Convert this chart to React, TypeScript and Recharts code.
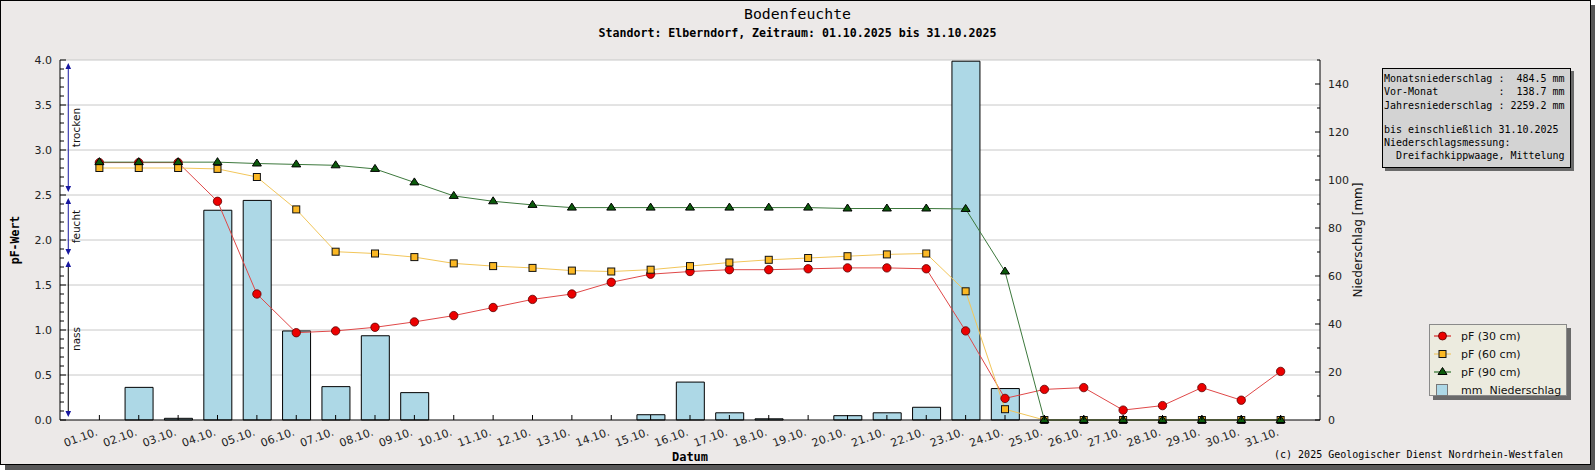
import React from 'react'
import {
  ComposedChart,
  Bar,
  Line,
  XAxis,
  YAxis,
  CartesianGrid,
  ReferenceLine,
} from 'recharts'

const DAYS = [
  '01.10.', '02.10.', '03.10.', '04.10.', '05.10.', '06.10.', '07.10.', '08.10.',
  '09.10.', '10.10.', '11.10.', '12.10.', '13.10.', '14.10.', '15.10.', '16.10.',
  '17.10.', '18.10.', '19.10.', '20.10.', '21.10.', '22.10.', '23.10.', '24.10.',
  '25.10.', '26.10.', '27.10.', '28.10.', '29.10.', '30.10.', '31.10.',
]

// Niederschlag in mm
const RAIN_MM = [
  0, 13.6, 0.7, 87.4, 91.5, 37.1, 13.9, 35.1, 11.4, 0, 0, 0, 0, 0, 2.2, 15.8,
  3.0, 0.5, 0, 1.8, 3.0, 5.3, 149.5, 13.1, 0, 0, 0, 0, 0, 0, 0,
]

// pF-Werte je Tiefe
const PF_30 = [
  2.86, 2.86, 2.86, 2.43, 1.4, 0.97, 0.99, 1.03, 1.09, 1.16, 1.25, 1.34, 1.4, 1.53, 1.62, 1.65,
  1.67, 1.67, 1.68, 1.69, 1.69, 1.68, 0.99, 0.24, 0.34, 0.36, 0.11, 0.16, 0.36, 0.22, 0.54,
]
const PF_60 = [
  2.8, 2.8, 2.8, 2.79, 2.7, 2.34, 1.87, 1.85, 1.81, 1.74, 1.71, 1.69, 1.66, 1.65, 1.67, 1.71,
  1.75, 1.78, 1.8, 1.82, 1.84, 1.85, 1.43, 0.12, 0, 0, 0, 0, 0, 0, 0,
]
const PF_90 = [
  2.865, 2.865, 2.865, 2.865, 2.85, 2.84, 2.83, 2.79, 2.64, 2.49, 2.43, 2.39, 2.36, 2.36, 2.36, 2.36,
  2.36, 2.36, 2.36, 2.35, 2.35, 2.35, 2.345, 1.65, 0, 0, 0, 0, 0, 0, 0,
]

const PF_GRID = [0.5, 1.0, 1.5, 2.0, 2.5, 3.0, 3.5, 4.0]
const PF_TICKS = Array.from({ length: 41 }, (_, i) => i / 10)
const MM_TICKS = [0, 10, 20, 30, 40, 50, 60, 70, 80, 90, 100, 110, 120, 130, 140, 150]
const MM_LABELS = [0, 20, 40, 60, 80, 100, 120, 140]

const ZONES = [
  { label: 'trocken', from: 2.5, to: 4.0 },
  { label: 'feucht', from: 1.8, to: 2.5 },
  { label: 'nass', from: 0, to: 1.8 },
]
const ZONE_LINE: Record<string, string> = {
  trocken: '#1818a0',
  feucht: '#1818a0',
  nass: '#000000',
}

const INFO_LINES = [
  'Monatsniederschlag :  484.5 mm',
  'Vor-Monat          :  138.7 mm',
  'Jahresniederschlag : 2259.2 mm',
  '',
  'bis einschließlich 31.10.2025',
  'Niederschlagsmessung:',
  '  Dreifachkippwaage, Mittelung',
]

const LEGEND_ITEMS = [
  { key: 'pf30', label: 'pF (30 cm)' },
  { key: 'pf60', label: 'pF (60 cm)' },
  { key: 'pf90', label: 'pF (90 cm)' },
  { key: 'rain', label: 'mm  Niederschlag' },
]

const data = DAYS.map((label, i) => ({
  day: i + 1,
  label,
  rain: RAIN_MM[i],
  pf30: PF_30[i],
  pf60: PF_60[i],
  pf90: PF_90[i],
}))
const DAY_NUMS = data.map((d) => d.day)

const SANS = '"DejaVu Sans", sans-serif'
const MONO = '"DejaVu Sans Mono", monospace'

function PfTick(props: any) {
  const { x, y, payload } = props
  const v = payload.value as number
  const major = Math.abs(v * 2 - Math.round(v * 2)) < 1e-6
  return (
    <g>
      <line x1={x} x2={x + (major ? 6 : 4)} y1={y} y2={y} stroke="#000" />
      {major && (
        <text x={x - 8} y={y} dy={4} textAnchor="end" fontSize={11} fontFamily={SANS} fill="#222">
          {v.toFixed(1)}
        </text>
      )}
    </g>
  )
}

function MmTick(props: any) {
  const { x, y, payload } = props
  const v = payload.value as number
  const major = MM_LABELS.includes(v)
  return (
    <g>
      <line x1={x} x2={x - (major ? 5 : 3)} y1={y} y2={y} stroke="#000" />
      {major && (
        <text x={x + 8} y={y} dy={4} textAnchor="start" fontSize={11} fontFamily={SANS} fill="#222">
          {v}
        </text>
      )}
    </g>
  )
}

function DayTick(props: any) {
  const { x, y, payload } = props
  const label = DAYS[(payload.value as number) - 1] ?? ''
  const ty = y + 15
  return (
    <g>
      <line x1={x} x2={x} y1={y} y2={y - 5} stroke="#000" />
      <text
        x={x - 1}
        y={ty}
        textAnchor="end"
        fontSize={11}
        fontFamily={SANS}
        fill="#222"
        transform={`rotate(-20, ${x - 1}, ${ty})`}
      >
        {label}
      </text>
    </g>
  )
}

function redDot(p: any) {
  if (p.cx == null || p.cy == null) return <g key={p.index} />
  return <circle key={p.index} cx={p.cx} cy={p.cy} r={4.2} fill="#ec0000" stroke="#5a0000" strokeWidth={0.8} />
}

function orangeDot(p: any) {
  if (p.cx == null || p.cy == null) return <g key={p.index} />
  return (
    <rect key={p.index} x={p.cx - 3.5} y={p.cy - 3.5} width={7} height={7} fill="#fbb824" stroke="#111" strokeWidth={1} />
  )
}

function greenDot(p: any) {
  if (p.cx == null || p.cy == null) return <g key={p.index} />
  const { cx, cy } = p
  return (
    <polygon
      key={p.index}
      points={`${cx},${cy - 4.5} ${cx + 4.5},${cy + 2.5} ${cx - 4.5},${cy + 2.5}`}
      fill="#0b5a0b"
      stroke="#000"
      strokeWidth={1}
    />
  )
}

function zoneShape(label: string) {
  return (p: any) => {
    const x = p.x1
    const top = Math.min(p.y1, p.y2) + 4
    const bot = Math.max(p.y1, p.y2) - 4
    const mid = (top + bot) / 2
    const head = '#1818a0'
    return (
      <g>
        <line x1={x} x2={x} y1={top + 3} y2={bot - 3} stroke={ZONE_LINE[label]} strokeWidth={1} />
        <polygon points={`${x},${top - 1} ${x + 2.8},${top + 5} ${x - 2.8},${top + 5}`} fill={head} />
        <polygon points={`${x},${bot + 1} ${x + 2.8},${bot - 5} ${x - 2.8},${bot - 5}`} fill={head} />
        <text
          x={x + 12}
          y={mid}
          textAnchor="middle"
          fontSize={10.5}
          fontFamily={SANS}
          fill="#111"
          transform={`rotate(-90, ${x + 12}, ${mid})`}
        >
          {label}
        </text>
      </g>
    )
  }
}

function scaleOf(axis: any, v: number): number {
  const s = axis?.scale
  if (typeof s === 'function') return s(v)
  if (s && typeof s.map === 'function') return s.map(v)
  return 0
}

function LegendMarker({ kind }: { kind: string }) {
  if (kind === 'rain') {
    return (
      <svg width={18} height={12}>
        <rect x={2.5} y={0.5} width={11} height={11} fill="#add8e6" stroke="#777" />
      </svg>
    )
  }
  const color = kind === 'pf30' ? '#d00000' : kind === 'pf60' ? '#f0c050' : '#0b5a0b'
  return (
    <svg width={18} height={12}>
      <line x1={0} x2={17} y1={6} y2={6} stroke={color} strokeWidth={1} />
      {kind === 'pf30' && <circle cx={8.5} cy={6} r={4} fill="#ec0000" stroke="#5a0000" strokeWidth={0.8} />}
      {kind === 'pf60' && <rect x={5} y={2.5} width={7} height={7} fill="#fbb824" stroke="#111" />}
      {kind === 'pf90' && <polygon points="8.5,1.5 13,8.5 4,8.5" fill="#0b5a0b" stroke="#000" />}
    </svg>
  )
}

export default function App() {
  return (
    <div style={{ position: 'relative', width: 1595, height: 470, overflow: 'hidden', fontFamily: SANS }}>
      <style>{'body{margin:0}'}</style>
      <div
        style={{
          position: 'absolute',
          left: 0,
          top: 0,
          width: 1589,
          height: 463,
          background: '#ece9e8',
          border: '1px solid #000',
          boxShadow: '5px 5px 0 #585858',
        }}
      />
      <div
        style={{
          position: 'absolute',
          left: 0,
          top: 5,
          width: 1595,
          textAlign: 'center',
          fontFamily: MONO,
          fontSize: 14.8,
          lineHeight: '18px',
          color: '#000',
        }}
      >
        Bodenfeuchte
      </div>
      <div
        style={{
          position: 'absolute',
          left: 0,
          top: 25,
          width: 1595,
          textAlign: 'center',
          fontFamily: MONO,
          fontWeight: 'bold',
          fontSize: 11.6,
          lineHeight: '16px',
          color: '#000',
        }}
      >
        Standort: Elberndorf, Zeitraum: 01.10.2025 bis 31.10.2025
      </div>

      <div style={{ position: 'absolute', left: 0, top: 0 }}>
        <ComposedChart
          width={1595}
          height={470}
          data={data}
          margin={{ top: 60, right: 199, bottom: 10, left: 0 }}
        >
          <CartesianGrid
            yAxisId="pf"
            vertical={false}
            stroke="#c8c8c8"
            fill="#ffffff"
            fillOpacity={1}
            horizontalCoordinatesGenerator={({ yAxis }: any) => PF_GRID.map((v) => scaleOf(yAxis, v))}
          />
          <XAxis
            dataKey="day"
            type="number"
            domain={[0, 32]}
            ticks={DAY_NUMS}
            interval={0}
            height={40}
            tickSize={0}
            tickMargin={0}
            tickLine={false}
            axisLine={{ stroke: '#000' }}
            tick={<DayTick />}
          />
          <YAxis
            yAxisId="pf"
            orientation="left"
            domain={[0, 4]}
            ticks={PF_TICKS}
            interval={0}
            width={60}
            tickSize={0}
            tickMargin={0}
            tickLine={false}
            axisLine={{ stroke: '#000' }}
            tick={<PfTick />}
          />
          <YAxis
            yAxisId="mm"
            orientation="right"
            domain={[0, 150]}
            ticks={MM_TICKS}
            interval={0}
            width={76}
            tickSize={0}
            tickMargin={0}
            tickLine={false}
            axisLine={{ stroke: '#000' }}
            tick={<MmTick />}
          />
          <Bar
            yAxisId="mm"
            dataKey="rain"
            name="mm Niederschlag"
            barSize={28}
            fill="#add8e6"
            stroke="#000"
            strokeWidth={1}
            isAnimationActive={false}
          />
          <Line
            yAxisId="pf"
            type="linear"
            dataKey="pf30"
            name="pF (30 cm)"
            stroke="#e04848"
            strokeWidth={1}
            dot={redDot}
            activeDot={false}
            isAnimationActive={false}
          />
          <Line
            yAxisId="pf"
            type="linear"
            dataKey="pf60"
            name="pF (60 cm)"
            stroke="#f2c65a"
            strokeWidth={1}
            dot={orangeDot}
            activeDot={false}
            isAnimationActive={false}
          />
          <Line
            yAxisId="pf"
            type="linear"
            dataKey="pf90"
            name="pF (90 cm)"
            stroke="#3c783c"
            strokeWidth={1}
            dot={greenDot}
            activeDot={false}
            isAnimationActive={false}
          />
          {ZONES.map((z) => (
            <ReferenceLine
              key={z.label}
              yAxisId="pf"
              segment={[
                { x: 0.21, y: z.to },
                { x: 0.21, y: z.from },
              ]}
              stroke={ZONE_LINE[z.label]}
              shape={zoneShape(z.label)}
            />
          ))}
        </ComposedChart>
      </div>

      <div
        style={{
          position: 'absolute',
          left: 15,
          top: 240,
          transform: 'translate(-50%, -50%) rotate(-90deg)',
          whiteSpace: 'nowrap',
          fontFamily: MONO,
          fontWeight: 'bold',
          fontSize: 11.5,
          color: '#000',
        }}
      >
        pF-Wert
      </div>
      <div
        style={{
          position: 'absolute',
          left: 1358,
          top: 240,
          transform: 'translate(-50%, -50%) rotate(-90deg)',
          whiteSpace: 'nowrap',
          fontFamily: SANS,
          fontSize: 12,
          color: '#111',
        }}
      >
        Niederschlag [mm]
      </div>
      <div
        style={{
          position: 'absolute',
          left: 690,
          top: 457,
          transform: 'translate(-50%, -50%)',
          whiteSpace: 'nowrap',
          fontFamily: MONO,
          fontWeight: 'bold',
          fontSize: 12,
          color: '#000',
        }}
      >
        Datum
      </div>
      <div
        style={{
          position: 'absolute',
          right: 1595 - 1563,
          top: 448,
          whiteSpace: 'pre',
          fontFamily: MONO,
          fontSize: 10,
          lineHeight: '14px',
          color: '#000',
        }}
      >
        (c) 2025 Geologischer Dienst Nordrhein-Westfalen
      </div>

      <div
        style={{
          position: 'absolute',
          left: 1382,
          top: 68,
          width: 186,
          height: 95,
          background: '#d3d3d3',
          border: '1px solid #000',
          boxShadow: '3px 3px 0 #6a6a6a',
          paddingTop: 3,
          paddingLeft: 1,
          boxSizing: 'content-box',
          fontFamily: MONO,
          fontSize: 10,
          color: '#000',
        }}
      >
        {INFO_LINES.map((t, i) => (
          <div key={i} style={{ whiteSpace: 'pre', lineHeight: t === '' ? '11px' : '13.3px', height: t === '' ? 11 : 13.3 }}>
            {t}
          </div>
        ))}
      </div>

      <div
        style={{
          position: 'absolute',
          left: 1429,
          top: 324,
          width: 138,
          height: 72,
          background: '#ecebdf',
          border: '1px solid #8a8a8a',
          boxShadow: '4px 4px 0 #6a6a6a',
          paddingTop: 2,
          boxSizing: 'border-box',
        }}
      >
        {LEGEND_ITEMS.map((it) => (
          <div key={it.key} style={{ display: 'flex', alignItems: 'center', height: 18, paddingLeft: 4 }}>
            <LegendMarker kind={it.key} />
            <span
              style={{
                marginLeft: 9,
                whiteSpace: 'pre',
                fontFamily: SANS,
                fontSize: 11,
                color: '#111',
              }}
            >
              {it.label}
            </span>
          </div>
        ))}
      </div>
    </div>
  )
}
